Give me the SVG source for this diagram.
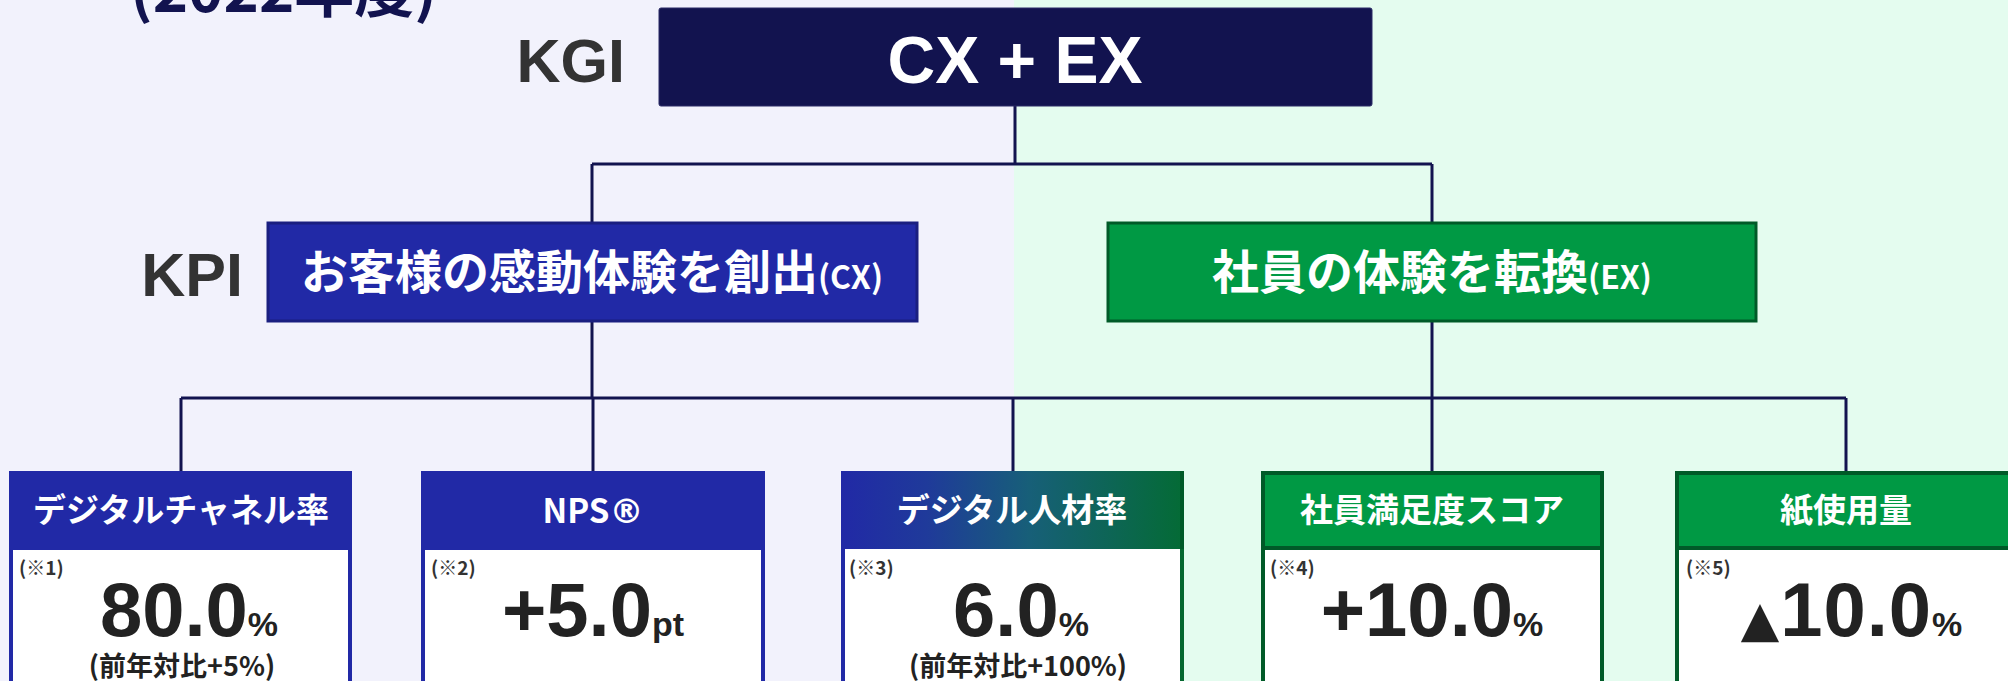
<svg xmlns="http://www.w3.org/2000/svg" width="2008" height="681" viewBox="0 0 2008 681">
<defs>
<style>
.jp{font-family:"Noto Sans CJK JP","Noto Sans",sans-serif;font-weight:bold}
.lat{font-family:"Liberation Sans",Arial,sans-serif;font-weight:bold}
.lvl{font-family:"Liberation Sans",Arial,sans-serif;font-weight:bold;font-size:61px;fill:#333333;text-anchor:end}
.hd{font-family:"Noto Sans CJK JP","Noto Sans",sans-serif;font-weight:bold;font-size:33px;fill:#ffffff;text-anchor:middle}
.note{font-family:"Noto Sans CJK JP","Noto Sans",sans-serif;font-weight:bold;font-size:19px;fill:#333333}
.num{font-family:"Liberation Sans",Arial,sans-serif;font-weight:bold;font-size:76px;fill:#222222;text-anchor:middle}
.unit{font-size:34px}
.sub{font-family:"Noto Sans CJK JP","Noto Sans",sans-serif;font-weight:bold;font-size:27px;fill:#222222;text-anchor:middle}
.conn{fill:none;stroke:#12134f;stroke-width:3}
.bbody{fill:#ffffff;stroke:#2129a6;stroke-width:4}
.bhead{fill:#2129a6}
.gbody{fill:#ffffff;stroke:#005a28;stroke-width:4}
.ghead{fill:#009944;stroke:#005a28;stroke-width:4}
</style>
<linearGradient id="gradHead" x1="0" y1="0" x2="1" y2="0">
<stop offset="0" stop-color="#2129a6"/>
<stop offset="0.25" stop-color="#1f3a9a"/>
<stop offset="0.55" stop-color="#175f78"/>
<stop offset="1" stop-color="#046b35"/>
</linearGradient>
<linearGradient id="gradBorder" x1="0" y1="0" x2="1" y2="0">
<stop offset="0" stop-color="#2129a6"/>
<stop offset="0.5" stop-color="#17587a"/>
<stop offset="1" stop-color="#05672f"/>
</linearGradient>
</defs>

<rect x="0" y="0" width="1014" height="681" fill="#f2f2fc"/>
<rect x="1014" y="0" width="994" height="681" fill="#e4fcef"/>

<text class="jp" x="130" y="12" font-size="60" fill="#12134f">(2022年度)</text>

<text class="lvl" x="625" y="82">KGI</text>
<text class="lvl" x="243" y="296">KPI</text>

<g id="connectors">
<path class="conn" d="M1015 106 V164 M592 164 H1432 M592 164 V223 M1432 164 V223"/>
<path class="conn" d="M592 321 V398 M1432 321 V398 M181 398 H1846 M181 398 V471 M593 398 V471 M1013 398 V471 M1432 398 V471 M1846 398 V471"/>
</g>

<g id="kgi">
<rect x="659" y="8" width="713" height="98" rx="2" fill="#12134f" stroke="#2a2b66" stroke-width="1"/>
<text class="lat" x="1015" y="83" font-size="66" fill="#ffffff" text-anchor="middle">CX + EX</text>
</g>

<g id="kpi-cx">
<rect x="268" y="223" width="649" height="98" fill="#2129a6" stroke="#1a1f80" stroke-width="3"/>
<text class="jp" x="592" y="289" font-size="47" fill="#ffffff" text-anchor="middle">お客様の感動体験を創出<tspan font-size="32">(CX)</tspan></text>
</g>

<g id="kpi-ex">
<rect x="1108" y="223" width="648" height="98" fill="#009944" stroke="#005a28" stroke-width="3"/>
<text class="jp" x="1432" y="289" font-size="47" fill="#ffffff" text-anchor="middle">社員の体験を転換<tspan font-size="32">(EX)</tspan></text>
</g>

<g id="card-digital-channel">
<rect class="bbody" x="11" y="473" width="339" height="260"/>
<rect class="bhead" x="9" y="471" width="343" height="79" rx="2"/>
<text class="hd" x="181" y="522">デジタルチャネル率</text>
<text class="note" x="19" y="575">(※1)</text>
<text class="num" x="189" y="636">80.0<tspan class="unit">%</tspan></text>
<text class="sub" x="182" y="676">(前年対比+5%)</text>
</g>

<g id="card-nps">
<rect class="bbody" x="423" y="473" width="340" height="260"/>
<rect class="bhead" x="421" y="471" width="344" height="79" rx="2"/>
<text class="hd" x="593" y="523">NPS<tspan font-family="DejaVu Sans" font-size="34">®</tspan></text>
<text class="note" x="431" y="575">(※2)</text>
<text class="num" x="593" y="636">+5.0<tspan class="unit">pt</tspan></text>
</g>

<g id="card-digital-talent">
<rect x="843" y="473" width="339" height="260" fill="#ffffff" stroke="url(#gradBorder)" stroke-width="4"/>
<rect x="841" y="471" width="343" height="78" rx="2" fill="url(#gradHead)"/>
<rect x="1180" y="471" width="4" height="78" fill="#005a28"/>
<text class="hd" x="1012" y="522">デジタル人材率</text>
<text class="note" x="849" y="575">(※3)</text>
<text class="num" x="1021" y="636">6.0<tspan class="unit">%</tspan></text>
<text class="sub" x="1018" y="676">(前年対比+100%)</text>
</g>

<g id="card-es">
<rect class="gbody" x="1263" y="473" width="339" height="260"/>
<rect class="ghead" x="1263" y="473" width="339" height="75"/>
<text class="hd" x="1432" y="522">社員満足度スコア</text>
<text class="note" x="1270" y="575">(※4)</text>
<text class="num" x="1432" y="636">+10.0<tspan class="unit">%</tspan></text>
</g>

<g id="card-paper">
<rect class="gbody" x="1677" y="473" width="339" height="260"/>
<rect class="ghead" x="1677" y="473" width="339" height="75"/>
<text class="hd" x="1846" y="522">紙使用量</text>
<text class="note" x="1686" y="575" font-family="DejaVu Sans" font-size="17">(※5)</text>
<text class="num" x="1852" y="636" font-size="68" letter-spacing="1"><tspan font-size="50" font-family="DejaVu Sans">▲</tspan>10.0<tspan class="unit">%</tspan></text>
</g>
</svg>
